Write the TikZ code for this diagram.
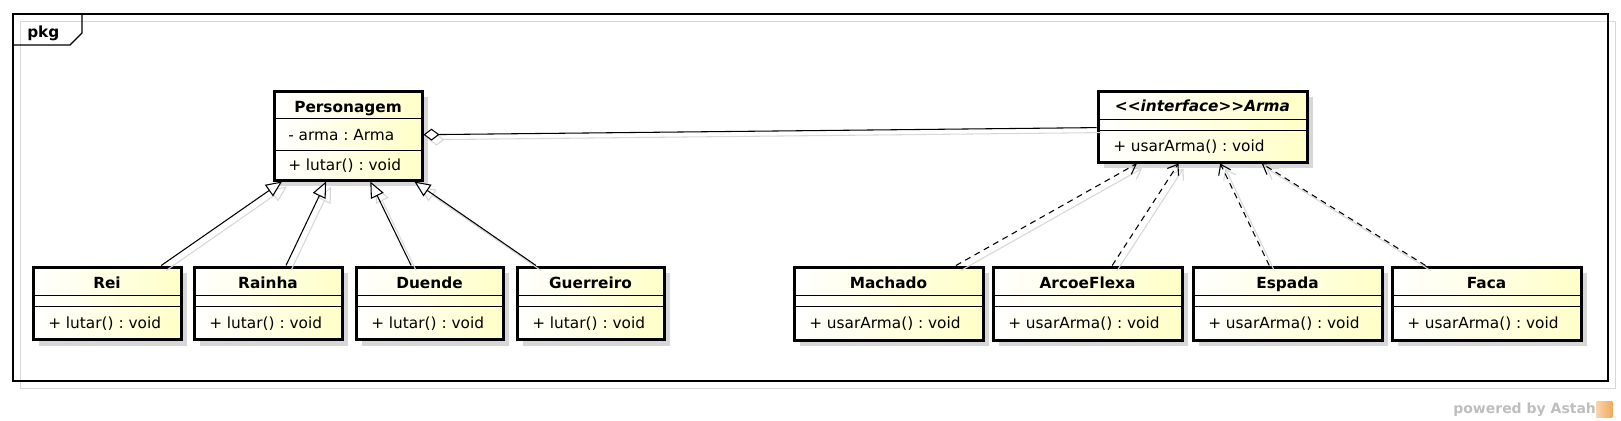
\documentclass[tikz,border=0pt]{standalone}
\usepackage{fontspec}
\setmainfont{DejaVu Sans}
\usetikzlibrary{arrows.meta,fit,shadows}
\definecolor{classyellow}{RGB}{255,255,200}
\definecolor{shadowgray}{RGB}{215,215,215}
\definecolor{astahgray}{RGB}{190,190,190}
\definecolor{astahorange}{RGB}{240,170,90}
\tikzset{
  classbox/.style={draw, line width=2.25pt, inner sep=0pt, left color=white, right color=classyellow,
    drop shadow={shadow xshift=4.5pt, shadow yshift=-4.5pt, fill=shadowgray, opacity=1}},
  compline/.style={line width=0.75pt},
  classname/.style={font=\bfseries, inner sep=0pt, anchor=base},
  member/.style={anchor=base west, inner sep=0pt},
  connshadow/.style={draw=shadowgray, solid, transform canvas={shift={(5,-5)}}},
  generalization/.style={line width=0.8pt, -{Triangle[open, fill=white, length=12pt, width=10.5pt]}},
  realization/.style={line width=0.8pt, dash pattern=on 4.5pt off 3.5pt, -{Straight Barb[length=7pt, width=10pt]}},
  aggregation/.style={line width=0.8pt, -{Diamond[open, fill=white, length=12pt, width=9pt]}},
}

\begin{document}
\fontsize{11.5}{13.8}\selectfont\frenchspacing
\begin{tikzpicture}[x=0.75pt,y=0.75pt,yscale=-1,xscale=1]
\useasboundingbox (0,0) rectangle (1621,421);

% Package frame
\draw[shadowgray, line width=0.75pt] (20,21) rectangle (1615,388);
\draw[line width=0.9pt] (13,14) rectangle (1608,381);
\draw[line width=0.9pt] (13,45) -- (70,45) -- (82,33) -- (82,14);
% Text Node
\node[classname, anchor=base west] (pkg) at (27,37) {pkg};

% Class
\node[classbox, fit={(274,91) (422,180)}] (personagem) {};
\draw[compline] (274,118) -- (422,118) (274,150) -- (422,150);
% Text Node
\node[classname] (personagemname) at (348,112) {Personagem};
\node[member] (personagemattr) at (288,140) {- arma : Arma};
\node[member] (personagemop) at (288,170.5) {+ lutar() : void};

% Class
\node[classbox, fit={(1098,91) (1307,162)}] (arma) {};
\draw[compline] (1098,119) -- (1307,119) (1098,130) -- (1307,130);
% Text Node
\node[classname, font=\bfseries\itshape] (armaname) at (1202.5,111.5) {\mbox{<}\mbox{<}interface\mbox{>}\mbox{>}Arma};
\node[member] (armaop) at (1113,151.5) {+ usarArma() : void};

% Class
\node[classbox, fit={(33,267) (181,339.5)}] (rei) {};
\draw[compline] (33,295.5) -- (181,295.5) (33,306) -- (181,306);
% Text Node
\node[classname] (reiname) at (107,288) {Rei};
\node[member] (reiop) at (48,328) {+ lutar() : void};

% Class
\node[classbox, fit={(194,267) (342,339.5)}] (rainha) {};
\draw[compline] (194,295.5) -- (342,295.5) (194,306) -- (342,306);
% Text Node
\node[classname] (rainhaname) at (268,288) {Rainha};
\node[member] (rainhaop) at (209,328) {+ lutar() : void};

% Class
\node[classbox, fit={(356,267) (503,339.5)}] (duende) {};
\draw[compline] (356,295.5) -- (503,295.5) (356,306) -- (503,306);
% Text Node
\node[classname] (duendename) at (429.5,288) {Duende};
\node[member] (duendeop) at (371,328) {+ lutar() : void};

% Class
\node[classbox, fit={(517,267) (664,339.5)}] (guerreiro) {};
\draw[compline] (517,295.5) -- (664,295.5) (517,306) -- (664,306);
% Text Node
\node[classname] (guerreironame) at (590.5,288) {Guerreiro};
\node[member] (guerreiroop) at (532,328) {+ lutar() : void};

% Class
\node[classbox, fit={(794,267) (983,340)}] (machado) {};
\draw[compline] (794,295.5) -- (983,295.5) (794,306) -- (983,306);
% Text Node
\node[classname] (machadoname) at (888.5,288) {Machado};
\node[member] (machadoop) at (809,328) {+ usarArma() : void};

% Class
\node[classbox, fit={(993,267) (1182,340)}] (arcoeflexa) {};
\draw[compline] (993,295.5) -- (1182,295.5) (993,306) -- (1182,306);
% Text Node
\node[classname] (arcoeflexaname) at (1087.5,288) {ArcoeFlexa};
\node[member] (arcoeflexaop) at (1008,328) {+ usarArma() : void};

% Class
\node[classbox, fit={(1193,267) (1382,340)}] (espada) {};
\draw[compline] (1193,295.5) -- (1382,295.5) (1193,306) -- (1382,306);
% Text Node
\node[classname] (espadaname) at (1287.5,288) {Espada};
\node[member] (espadaop) at (1208,328) {+ usarArma() : void};

% Class
\node[classbox, fit={(1392,267) (1581,340)}] (faca) {};
\draw[compline] (1392,295.5) -- (1581,295.5) (1392,306) -- (1581,306);
% Text Node
\node[classname] (facaname) at (1486.5,288) {Faca};
\node[member] (facaop) at (1407,328) {+ usarArma() : void};

% Connection
\draw[aggregation, connshadow] (arma) -- (personagem);
\draw[aggregation] (arma) -- (personagem);
% Connection
\draw[generalization, connshadow] (rei) -- (personagem);
\draw[generalization] (rei) -- (personagem);
% Connection
\draw[generalization, connshadow] (rainha) -- (personagem);
\draw[generalization] (rainha) -- (personagem);
% Connection
\draw[generalization, connshadow] (duende) -- (personagem);
\draw[generalization] (duende) -- (personagem);
% Connection
\draw[generalization, connshadow] (guerreiro) -- (personagem);
\draw[generalization] (guerreiro) -- (personagem);
% Connection
\draw[realization, connshadow] (machado) -- (arma);
\draw[realization] (machado) -- (arma);
% Connection
\draw[realization, connshadow] (arcoeflexa) -- (arma);
\draw[realization] (arcoeflexa) -- (arma);
% Connection
\draw[realization, connshadow] (espada) -- (arma);
\draw[realization] (espada) -- (arma);
% Connection
\draw[realization, connshadow] (faca) -- (arma);
\draw[realization] (faca) -- (arma);

% Text Node
\node[font=\bfseries\fontsize{10.5}{12}\selectfont, text=astahgray, anchor=base west, inner sep=0pt] (powered) at (1453,413) {powered by Astah};
\node[left color=astahorange!50, right color=astahorange, minimum size=12pt, inner sep=0pt, anchor=west] (astahlogo) at (powered.east) {};

\end{tikzpicture}
\end{document}
